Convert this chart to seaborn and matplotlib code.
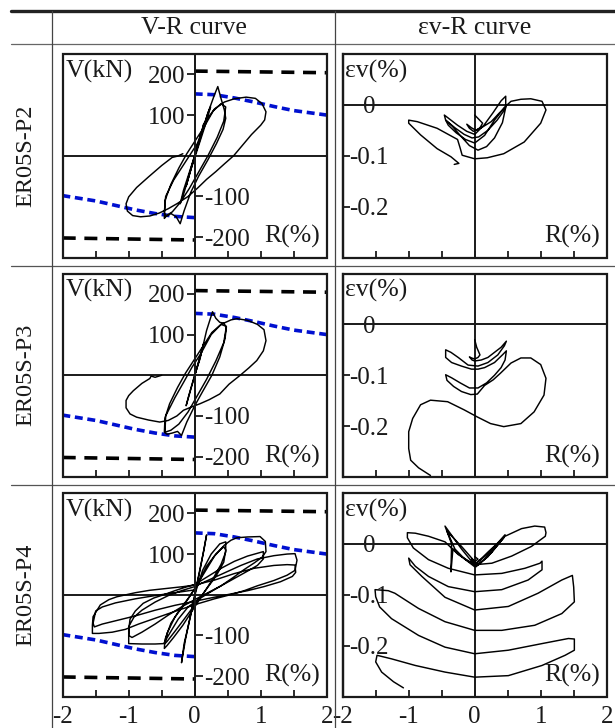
import matplotlib
matplotlib.use('Agg')
import matplotlib.pyplot as plt
import seaborn as sns
from matplotlib.lines import Line2D
from matplotlib.patches import Rectangle

sns.set_theme(style='white')
plt.rcParams['font.family'] = ['Liberation Serif', 'DejaVu Serif']
plt.rcParams['axes.unicode_minus'] = False

# ---------------- labels ----------------
specimens = ['ER05S-P2', 'ER05S-P3', 'ER05S-P4']
col_titles = ['V-R curve', 'εv-R curve']
x_ticks = [-2, -1.5, -1, -0.5, 0, 0.5, 1, 1.5, 2]
x_tick_labels = ['-2', '', '-1', '', '0', '', '1', '', '2']
v_ticks_pos = [100, 200]
v_tick_labels_pos = ['100', '200']
v_ticks_neg = [-200, -100]
v_tick_labels_neg = ['-200', '-100']
ev_ticks = [0, -0.1, -0.2]
ev_tick_labels = ['0', '-0.1', '-0.2']

# ---------------- reference lines (V-R) ----------------
cap_R_pos = [0, 2]
cap_V_pos = [208, 204]
cap_R_neg = [-2, 0]
cap_V_neg = [-202, -207]
blue_R_pos = [0, 0.3, 0.6, 0.9, 1.2, 1.5, 2.0]
blue_V_pos = [152, 150, 142, 132, 121, 111, 100]
blue_R_neg = [0, -0.3, -0.6, -0.9, -1.2, -1.5, -2.0]
blue_V_neg = [-152, -149, -142, -133, -122, -111, -98]

# ---------------- ER05S-P2 : (R %, V kN) ----------------
p2_vr = [(0.00, 0), (0.08, 45), (0.14, 80), (0.10, 55), (0.02, 10), (-0.06, -35), (-0.13, -75),
         (-0.09, -50), (-0.01, -5),
         (0.10, 55), (0.20, 105), (0.24, 120), (0.18, 85), (0.06, 25), (-0.06, -35), (-0.16, -90),
         (-0.22, -118), (-0.17, -85), (-0.05, -25),
         (0.08, 40), (0.20, 105), (0.30, 150), (0.35, 170), (0.40, 140), (0.45, 112), (0.47, 92),
         (0.43, 65), (0.33, 30), (0.20, -10), (0.06, -50), (-0.06, -90), (-0.16, -135), (-0.22, -167),
         (-0.28, -150), (-0.36, -142), (-0.44, -150), (-0.46, -154), (-0.45, -110), (-0.36, -70),
         (-0.24, -30), (-0.12, 5), (0.00, 35),
         (0.14, 70), (0.28, 110), (0.40, 128), (0.47, 120), (0.44, 85), (0.34, 45), (0.20, 0),
         (0.06, -40), (-0.08, -80), (-0.22, -115), (-0.34, -138), (-0.44, -148), (-0.46, -140),
         (-0.44, -100), (-0.32, -60), (-0.18, -25), (-0.06, 5), (0.04, 30),
         (0.18, 88), (0.30, 115), (0.45, 132), (0.60, 140), (0.78, 144), (0.92, 141), (1.02, 128),
         (1.08, 108), (1.06, 88), (1.00, 75), (0.86, 52), (0.72, 25), (0.59, 0), (0.45, -20),
         (0.32, -39), (0.18, -58), (0.04, -80), (-0.10, -100), (-0.26, -117), (-0.40, -130),
         (-0.54, -141), (-0.68, -148), (-0.82, -150), (-0.94, -147), (-1.02, -136), (-1.04, -118),
         (-1.00, -101), (-0.88, -78), (-0.70, -52), (-0.50, -24), (-0.34, -4), (-0.26, -1), (-0.18, 5)]

p2_ev = [(0.00, -0.020), (0.06, -0.028), (0.12, -0.036), (0.08, -0.045), (0.02, -0.050),
         (-0.05, -0.045), (-0.12, -0.038), (-0.08, -0.046), (-0.02, -0.052),
         (0.10, -0.045), (0.25, -0.033), (0.38, -0.015), (0.47, -0.004), (0.47, 0.017), (0.40, 0.008),
         (0.28, -0.015), (0.14, -0.040), (0.00, -0.058), (-0.12, -0.052), (-0.26, -0.040),
         (-0.38, -0.028), (-0.46, -0.020),
         (-0.44, -0.030), (-0.30, -0.045), (-0.16, -0.058), (-0.04, -0.065), (0.06, -0.063),
         (0.20, -0.050), (0.34, -0.030), (0.44, -0.012), (0.47, -0.005), (0.42, -0.035),
         (0.30, -0.065), (0.18, -0.082), (0.05, -0.089), (-0.08, -0.080), (-0.22, -0.060),
         (-0.34, -0.042), (-0.44, -0.030),
         (-0.40, -0.040), (-0.28, -0.055), (-0.14, -0.068), (0.00, -0.075),
         (0.15, -0.060), (0.30, -0.030), (0.45, -0.005), (0.55, 0.007), (0.70, 0.011), (0.85, 0.012),
         (1.02, 0.007), (1.08, -0.010), (1.00, -0.036), (0.75, -0.073), (0.44, -0.096),
         (0.19, -0.104), (0.00, -0.106),
         (-0.19, -0.099), (-0.22, -0.085), (-0.26, -0.068), (-0.57, -0.046), (-0.87, -0.033),
         (-1.00, -0.030), (-1.00, -0.036), (-0.82, -0.059), (-0.57, -0.086),
         (-0.36, -0.102), (-0.24, -0.115), (-0.31, -0.117)]

# ---------------- ER05S-P3 ----------------
p3_vr = [(0.00, 0), (0.08, 45), (0.14, 80), (0.10, 55), (0.02, 10), (-0.06, -35), (-0.13, -75),
         (-0.09, -50), (-0.01, -5),
         (0.08, 40), (0.18, 110), (0.27, 156), (0.32, 140), (0.38, 130), (0.44, 128), (0.48, 118),
         (0.46, 90), (0.38, 45), (0.26, 0), (0.12, -40), (0.00, -75), (-0.12, -115), (-0.20, -148),
         (-0.26, -138), (-0.34, -142), (-0.42, -145), (-0.46, -140), (-0.45, -105), (-0.38, -70),
         (-0.26, -30), (-0.14, 5), (-0.02, 35),
         (0.12, 70), (0.26, 105), (0.40, 125), (0.48, 120), (0.44, 80), (0.32, 35), (0.18, -10),
         (0.04, -50), (-0.10, -90), (-0.24, -120), (-0.36, -135), (-0.45, -140),
         (-0.44, -100), (-0.30, -55), (-0.16, -15), (-0.04, 20),
         (0.10, 55), (0.25, 100), (0.40, 125), (0.55, 136), (0.64, 139), (0.80, 135), (0.95, 125),
         (1.05, 112), (1.08, 85), (1.04, 60), (0.94, 36), (0.82, 18), (0.69, 0), (0.52, -22),
         (0.38, -46), (0.22, -60), (0.08, -70), (-0.05, -78), (-0.17, -86), (-0.27, -100),
         (-0.40, -111), (-0.53, -115), (-0.70, -110), (-0.88, -103), (-0.98, -95), (-1.04, -80),
         (-1.04, -62), (-1.00, -50), (-0.93, -38), (-0.80, -20), (-0.68, -8), (-0.66, -2),
         (-0.60, -5), (-0.50, 0)]

p3_ev = [(0.00, -0.030), (0.03, -0.045), (0.08, -0.060), (0.05, -0.065), (0.00, -0.068),
         (-0.05, -0.066), (-0.08, -0.064), (-0.04, -0.070), (0.00, -0.072),
         (0.10, -0.070), (0.20, -0.065), (0.30, -0.055), (0.40, -0.045), (0.48, -0.033),
         (0.45, -0.042), (0.35, -0.060), (0.20, -0.075), (0.05, -0.082), (-0.10, -0.080),
         (-0.25, -0.065), (-0.36, -0.055), (-0.44, -0.050),
         (-0.44, -0.065), (-0.35, -0.075), (-0.20, -0.082), (-0.05, -0.088), (0.05, -0.088),
         (0.15, -0.085), (0.30, -0.075), (0.42, -0.060), (0.48, -0.052), (0.46, -0.070),
         (0.40, -0.085), (0.30, -0.100), (0.18, -0.115), (0.05, -0.125), (-0.08, -0.125),
         (-0.22, -0.115), (-0.35, -0.105), (-0.44, -0.099),
         (-0.42, -0.110), (-0.32, -0.122), (-0.20, -0.132), (-0.06, -0.138), (0.04, -0.137),
         (0.15, -0.120), (0.28, -0.109), (0.39, -0.096), (0.55, -0.076), (0.70, -0.066),
         (0.85, -0.066), (1.00, -0.079), (1.08, -0.106), (1.05, -0.139), (0.90, -0.172),
         (0.70, -0.195), (0.44, -0.201), (0.24, -0.195), (0.04, -0.182),
         (-0.16, -0.168), (-0.41, -0.152), (-0.67, -0.149), (-0.82, -0.158), (-0.94, -0.185),
         (-1.00, -0.211), (-1.00, -0.244), (-0.97, -0.267), (-0.85, -0.282), (-0.67, -0.297)]

# ---------------- ER05S-P4 ----------------
p4_vr = [(0.00, 0), (0.08, 60), (0.15, 120), (0.18, 147), (0.14, 110), (0.05, 40), (-0.05, -40),
         (-0.14, -110), (-0.20, -167), (-0.16, -120), (-0.06, -50), (0.02, 10),
         (0.12, 60), (0.25, 100), (0.38, 125), (0.47, 130), (0.47, 105), (0.40, 75), (0.28, 40),
         (0.12, 0), (-0.04, -40), (-0.18, -75), (-0.32, -105), (-0.42, -125), (-0.46, -132),
         (-0.45, -110), (-0.36, -70), (-0.22, -35), (-0.08, -5), (0.04, 25),
         (0.18, 70), (0.32, 100), (0.44, 118), (0.47, 110), (0.44, 80), (0.32, 45), (0.16, 10),
         (0.00, -25), (-0.16, -60), (-0.30, -90), (-0.42, -115), (-0.45, -120),
         (-0.42, -95), (-0.30, -55), (-0.14, -20), (0.00, 15),
         (0.15, 55), (0.30, 95), (0.45, 122), (0.55, 134), (0.64, 140), (0.80, 142), (0.99, 143),
         (1.07, 131), (1.08, 106), (1.02, 92), (0.90, 78), (0.75, 62), (0.58, 42), (0.40, 22),
         (0.22, 5), (0.05, -12), (-0.10, -30), (-0.25, -60), (-0.38, -95), (-0.47, -120),
         (-0.60, -121), (-0.80, -121), (-1.00, -120), (-1.00, -88), (-0.98, -60), (-0.90, -40),
         (-0.78, -21), (-0.62, -8), (-0.47, 0), (-0.30, 10), (-0.15, 18), (0.00, 25),
         (0.20, 45), (0.40, 65), (0.60, 82), (0.80, 95), (0.95, 102), (1.04, 106), (1.04, 88),
         (0.95, 72), (0.80, 58), (0.60, 40), (0.40, 22), (0.20, 5), (0.00, -12),
         (-0.20, -30), (-0.40, -50), (-0.60, -72), (-0.80, -92), (-0.95, -105), (-1.00, -100),
         (-0.99, -75), (-0.92, -55), (-0.80, -38), (-0.60, -18), (-0.40, -2), (-0.20, 10), (0.00, 20),
         (0.10, 28), (0.40, 50), (0.70, 72), (0.95, 88), (1.20, 96), (1.40, 100), (1.52, 101),
         (1.55, 85), (1.52, 60), (1.40, 48), (1.20, 35), (0.95, 22), (0.75, 10), (0.54, 0),
         (0.30, -10), (0.05, -22), (-0.25, -38), (-0.55, -55), (-0.85, -72), (-1.05, -85),
         (-1.25, -92), (-1.45, -95), (-1.55, -95), (-1.55, -75), (-1.54, -54), (-1.48, -38),
         (-1.43, -25), (-1.30, -12), (-1.18, -5), (-0.90, 5), (-0.68, 11), (-0.40, 16), (-0.17, 20),
         (0.00, 24),
         (0.30, 36), (0.60, 52), (0.90, 65), (1.20, 72), (1.40, 74), (1.52, 73), (1.53, 55),
         (1.48, 45), (1.30, 32), (1.05, 20), (0.80, 10), (0.55, 2), (0.30, -6), (0.00, -16),
         (-0.30, -26), (-0.60, -38), (-0.90, -52), (-1.20, -64), (-1.40, -72), (-1.52, -79),
         (-1.54, -70), (-1.50, -40), (-1.40, -30), (-1.20, -20), (-0.90, -10), (-0.60, -2),
         (-0.30, 5), (0.00, 12)]

p4_ev = [(0.00, -0.025), (0.05, -0.030), (0.00, -0.035), (-0.05, -0.030), (0.00, -0.040),
         (0.20, -0.020), (0.46, 0.018), (0.20, -0.025), (0.02, -0.045),
         (-0.20, -0.010), (-0.45, 0.035), (-0.35, 0.000), (-0.36, -0.055), (-0.33, -0.010),
         (-0.20, -0.025), (0.00, -0.045),
         (0.20, -0.025), (0.44, 0.012), (0.25, -0.018), (0.05, -0.042),
         (-0.20, -0.005), (-0.42, 0.025), (-0.30, -0.010), (-0.15, -0.030), (0.00, -0.042),
         (0.06, -0.034), (0.21, -0.015), (0.46, 0.015), (0.71, 0.030), (0.91, 0.035),
         (1.06, 0.033), (1.08, 0.022),
         (1.07, 0.015), (0.86, -0.005), (0.56, -0.024), (0.26, -0.038), (0.00, -0.041),
         (-0.25, -0.021), (-0.45, 0.004), (-0.70, 0.015), (-0.90, 0.021), (-1.02, 0.022),
         (-1.02, 0.012), (-0.93, -0.008), (-0.70, -0.031), (-0.40, -0.048), (0.00, -0.061),
         (0.41, -0.058), (0.76, -0.048), (0.99, -0.038), (1.02, -0.034),
         (1.02, -0.051), (0.81, -0.071), (0.41, -0.090), (0.00, -0.094), (-0.40, -0.084),
         (-0.70, -0.064), (-0.90, -0.044), (-1.00, -0.028),
         (-0.98, -0.041), (-0.80, -0.064), (-0.45, -0.105), (0.00, -0.130), (0.51, -0.123),
         (0.96, -0.097), (1.32, -0.071), (1.48, -0.062),
         (1.50, -0.085), (1.51, -0.114), (1.32, -0.137), (0.91, -0.160), (0.41, -0.170),
         (0.00, -0.170), (-0.45, -0.153), (-0.85, -0.127), (-1.21, -0.097), (-1.31, -0.092),
         (-1.51, -0.090),
         (-1.50, -0.104), (-1.44, -0.124), (-1.26, -0.147), (-0.85, -0.180), (-0.45, -0.203),
         (0.00, -0.216), (0.51, -0.209), (1.02, -0.196), (1.42, -0.186), (1.51, -0.187),
         (1.51, -0.209), (1.37, -0.219), (1.02, -0.239), (0.51, -0.259), (0.00, -0.262),
         (-0.45, -0.252), (-0.90, -0.239), (-1.26, -0.226), (-1.48, -0.219),
         (-1.50, -0.232), (-1.41, -0.252), (-1.23, -0.271), (-1.08, -0.283)]

vr_data = [p2_vr, p3_vr, p4_vr]
ev_data = [p2_ev, p3_ev, p4_ev]

# ---------------- figure ----------------
W, H = 615, 728
fig = plt.figure(figsize=(W / 100, H / 100), dpi=100)
fig.patch.set_facecolor('white')

FS = 18
INK = '#1a1a1a'
CURVE_LW = 1.05
col_x = [62.7, 342.7]
ax_w = 264
row_top = [54, 273.5, 493]
ax_h = 203.5


def frame(ax):
    for s in ['top', 'right', 'bottom']:
        ax.spines[s].set_visible(False)
    ax.add_patch(Rectangle((0, 0), 1, 1, transform=ax.transAxes, fill=False,
                           lw=1.6, ec=INK, clip_on=False, zorder=6))


def xaxis(ax, last):
    ax.set_xlim(-2, 2)
    ax.set_xticks(x_ticks)
    ax.set_xticklabels(x_tick_labels if last else [''] * len(x_ticks))
    ax.tick_params(axis='x', direction='in', length=5, width=1.3, color=INK,
                   labelsize=FS, pad=7, labelcolor=INK, top=False, bottom=True)
    ax.set_xlabel('')
    ax.set_ylabel('')


def ref_line(ax, xs, ys, color, dashes):
    sns.lineplot(x=xs, y=ys, ax=ax, color=color, lw=2.6, estimator=None, sort=False)
    ax.lines[-1].set_dashes(dashes)


for i in range(3):
    for j in range(2):
        left = col_x[j] / W
        bottom = 1 - (row_top[i] + ax_h) / H
        ax = fig.add_axes([left, bottom, ax_w / W, ax_h / H])
        ax.set_facecolor('white')
        frame(ax)
        xaxis(ax, i == 2)
        if j == 0:
            R = [p[0] for p in vr_data[i]]
            V = [p[1] for p in vr_data[i]]
            ref_line(ax, cap_R_pos, cap_V_pos, 'black', [3.6, 2.4])
            ref_line(ax, cap_R_neg, cap_V_neg, 'black', [3.6, 2.4])
            ref_line(ax, blue_R_pos, blue_V_pos, '#0010d0', [2.2, 1.3])
            ref_line(ax, blue_R_neg, blue_V_neg, '#0010d0', [2.2, 1.3])
            sns.lineplot(x=R, y=V, ax=ax, color='black', lw=CURVE_LW, estimator=None, sort=False)
            ax.set_ylim(-250, 250)
            ax.axhline(0, color=INK, lw=1.4, zorder=1)
            ax.spines['left'].set_position(('data', 0))
            ax.spines['left'].set_linewidth(1.4)
            ax.spines['left'].set_color(INK)
            ax.set_yticks(v_ticks_pos)
            ax.set_yticklabels(v_tick_labels_pos)
            ax.tick_params(axis='y', direction='out', length=6, width=1.3, color=INK,
                           labelsize=FS, pad=0.5, labelcolor=INK, left=True, right=False)
            # negative V ticks sit on the right-hand side of the zero axis
            sec = ax.secondary_yaxis(0.5)
            sec.set_yticks(v_ticks_neg)
            sec.set_yticklabels(v_tick_labels_neg)
            sec.tick_params(axis='y', direction='out', length=6, width=1.3, color=INK,
                            labelsize=FS, pad=0.5, labelcolor=INK)
            for s in sec.spines.values():
                s.set_linewidth(1.4)
                s.set_color(INK)
            ax.text(0.012, 0.972, 'V(kN)', transform=ax.transAxes, ha='left', va='top',
                    fontsize=FS + 0.5, color=INK)
        else:
            R = [p[0] for p in ev_data[i]]
            E = [p[1] for p in ev_data[i]]
            sns.lineplot(x=R, y=E, ax=ax, color='black', lw=CURVE_LW, estimator=None, sort=False)
            ax.set_ylim(-0.3, 0.1)
            ax.axhline(0, color=INK, lw=1.4, zorder=1)
            ax.axvline(0, color=INK, lw=1.4, zorder=1)
            ax.spines['left'].set_linewidth(1.6)
            ax.spines['left'].set_color(INK)
            ax.set_yticks(ev_ticks)
            ax.set_yticklabels(ev_tick_labels)
            ax.tick_params(axis='y', direction='in', length=5, width=1.3, color=INK,
                           labelsize=FS, pad=-19, labelcolor=INK, left=True, right=False)
            for lab in ax.get_yticklabels():
                lab.set_horizontalalignment('center')
            ax.text(0.008, 0.972, 'εv(%)', transform=ax.transAxes, ha='left', va='top',
                    fontsize=FS + 0.5, color=INK)
        ax.text(0.975, 0.045, 'R(%)', transform=ax.transAxes, ha='right', va='bottom',
                fontsize=FS + 0.5, color=INK)
        if ax.get_legend() is not None:
            ax.get_legend().remove()

# ---------------- table lines and headers ----------------
def hline(y, lw, color):
    fig.add_artist(Line2D([11 / W, 1], [1 - y / H] * 2, lw=lw, color=color))


def vline(x):
    fig.add_artist(Line2D([x / W] * 2, [1 - 10.7 / H, 0], lw=0.9, color='#444444'))


hline(10.7, 2.4, '#222222')
hline(43.7, 0.9, '#666666')
hline(265.7, 0.9, '#555555')
hline(484.5, 0.9, '#555555')
vline(52)
vline(335)

fig.text(193.5 / W, 1 - 28 / H, col_titles[0], ha='center', va='center', fontsize=FS + 0.5, color=INK)
fig.text(475 / W, 1 - 28 / H, col_titles[1], ha='center', va='center', fontsize=FS + 0.5, color=INK)
row_centers = [155.5, 375, 594.5]
for name, yc in zip(specimens, row_centers):
    fig.text(26 / W, 1 - yc / H, name, rotation=90, ha='center', va='center',
             fontsize=FS - 0.5, color=INK)

fig.savefig('out.png', dpi=100, facecolor='white')
